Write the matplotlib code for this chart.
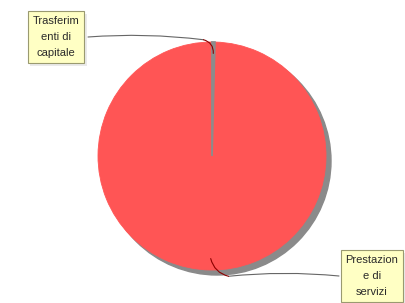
import numpy as np
import matplotlib.pyplot as plt
from matplotlib.patches import Circle
import matplotlib.patheffects as pe

# Data
labels = ["Trasferim\nenti di\ncapitale", "Prestazion\ne di\nservizi"]
values = [0.4, 99.6]
colors = ["#8c8c8c", "#ff5555"]

# Label box positions (pixel space, y measured from top)
box_pos = [(56, 37), (372, 276)]

fig = plt.figure(figsize=(4.05, 3.03), dpi=100)
ax = fig.add_axes([0, 0, 1, 1])

cx, cy, r = 212, 303 - 156, 114

# shadow
ax.add_patch(Circle((cx + 5, cy - 5), r, color="#8a8a8a", zorder=1))

wedges, _ = ax.pie(values, colors=colors, startangle=90, counterclock=False,
                   center=(cx, cy), radius=r, frame=True,
                   wedgeprops=dict(linewidth=0.6, edgecolor="#ff5555"))
wedges[1].set_zorder(2)
wedges[0].set_zorder(3)
wedges[0].set_edgecolor("#8c8c8c")
wedges[0].set_linewidth(1.3)
ax.set_xlim(0, 405)
ax.set_ylim(0, 303)
ax.set_aspect("equal")
ax.axis("off")

fracs = np.array(values) / sum(values)
start = 90
for i, (lab, (bx, by)) in enumerate(zip(labels, box_pos)):
    mid = start - fracs[i] * 360 / 2
    start -= fracs[i] * 360
    ang = np.deg2rad(mid)
    ax_pt = (cx + 0.9 * r * np.cos(ang), cy + 0.9 * r * np.sin(ang))
    edge_pt = (cx + 1.02 * r * np.cos(ang) + (-10 if i == 0 else 18),
               cy + 1.02 * r * np.sin(ang) + (0 if i == 0 else -4))
    t = ax.text(bx, 303 - by, lab, ha="center", va="center", fontsize=8,
                family="Liberation Sans", color="#2a2a2a", linespacing=1.75,
                zorder=5,
                bbox=dict(boxstyle="square,pad=0.45", facecolor="#ffffc4",
                          edgecolor="#9a9a70", linewidth=0.8))
    t.get_bbox_patch().set_path_effects(
        [pe.SimplePatchShadow(offset=(2, -2), shadow_rgbFace="#bbbbbb"), pe.Normal()])
    # gray leader from box to pie edge
    box_edge_x = bx + 32 if i == 0 else bx - 33
    ax.annotate("", xy=edge_pt, xytext=(box_edge_x, 303 - by),
                arrowprops=dict(arrowstyle="-", color="#666666", lw=0.8,
                                shrinkA=0, shrinkB=0,
                                connectionstyle="arc3,rad=%s" % (-0.05 if i == 0 else 0.05)),
                zorder=4)
    # dark red part inside the pie
    ax.annotate("", xy=ax_pt, xytext=edge_pt,
                arrowprops=dict(arrowstyle="-", color="#8b0000", lw=0.8,
                                shrinkA=0, shrinkB=0,
                                connectionstyle="arc3,rad=%s" % (-0.4 if i == 0 else -0.3)),
                zorder=4)

fig.savefig("out.png", dpi=100)
